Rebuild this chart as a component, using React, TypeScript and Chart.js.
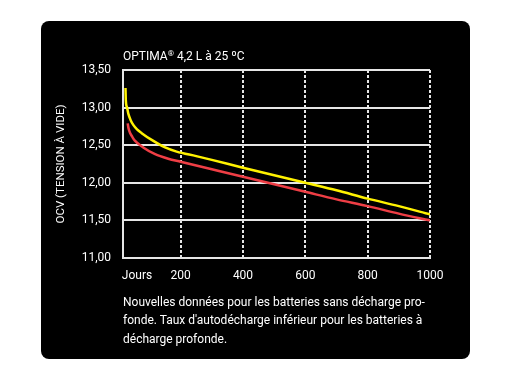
import React, { useEffect, useRef } from "react";
import { Chart, registerables } from "chart.js";

Chart.register(...registerables);

const yellowDays = [23, 24, 28, 32, 40, 48, 60, 75, 107, 150, 187, 250, 300, 400, 500, 600, 700, 800, 900, 1000];
const yellowOcv = [13.26, 13.1, 13.0, 12.92, 12.83, 12.77, 12.71, 12.66, 12.57, 12.47, 12.415, 12.355, 12.305, 12.2, 12.1, 12.0, 11.9, 11.79, 11.69, 11.58];
const redDays = [30, 33, 37, 45, 53, 80, 118, 160, 200, 300, 400, 500, 600, 700, 800, 900, 1000];
const redOcv = [12.79, 12.72, 12.67, 12.61, 12.56, 12.47, 12.38, 12.32, 12.28, 12.18, 12.08, 11.98, 11.88, 11.78, 11.69, 11.59, 11.5];
const xTickValues = [60, 200, 400, 600, 800, 1000];
const xTickLabels = ["Jours", "200", "400", "600", "800", "1000"];
const yTitle = "OCV (TENSION À VIDE)";
const footLines = [
  "Nouvelles données pour les batteries sans décharge pro-",
  "fonde. Taux d'autodécharge inférieur pour les batteries à",
  "décharge profonde.",
];

const FONT = "Roboto, 'DejaVu Sans', sans-serif";
const GRID = "#e6e6e6";

export default function App() {
  const ref = useRef<HTMLCanvasElement | null>(null);
  useEffect(() => {
    if (!ref.current) return;
    const chart = new Chart(ref.current, {
      type: "line",
      data: {
        datasets: [
          {
            data: yellowDays.map((d, i) => ({ x: d, y: yellowOcv[i] })),
            borderColor: "#fff200",
            borderWidth: 2.5,
            pointRadius: 0,
            cubicInterpolationMode: "monotone",
            fill: false,
          },
          {
            data: redDays.map((d, i) => ({ x: d, y: redOcv[i] })),
            borderColor: "#ef3e45",
            borderWidth: 2.5,
            pointRadius: 0,
            cubicInterpolationMode: "monotone",
            fill: false,
          },
        ],
      },
      options: {
        animation: false,
        responsive: false,
        maintainAspectRatio: false,
        devicePixelRatio: 1,
        layout: { padding: { left: 50, right: 81, top: 70, bottom: 88 } },
        plugins: { legend: { display: false }, tooltip: { enabled: false }, title: { display: false } },
        scales: {
          x: {
            type: "linear",
            min: 15,
            max: 1000,
            afterBuildTicks: (scale: any) => {
              scale.ticks = xTickValues.map((v) => ({ value: v }));
            },
            afterFit: (scale: any) => {
              scale.height = 30;
            },
            ticks: {
              color: "#ffffff",
              font: { family: FONT, size: 12 },
              padding: 11,
              maxRotation: 0,
              autoSkip: false,
              callback: (v: any) => {
                const i = xTickValues.indexOf(Number(v));
                return i >= 0 ? xTickLabels[i] : "";
              },
            },
            grid: {
              drawTicks: false,
              lineWidth: 2,
              color: (ctx: any) => (ctx.tick && ctx.tick.value === 60 ? "rgba(0,0,0,0)" : GRID),
            },
            border: { display: true, color: GRID, width: 2, dash: [3, 2] },
          },
          y: {
            min: 11,
            max: 13.5,
            afterFit: (scale: any) => {
              scale.width = 73;
            },
            ticks: {
              stepSize: 0.5,
              color: "#ffffff",
              font: { family: FONT, size: 12 },
              padding: 12,
              callback: (v: any) => Number(v).toFixed(2).replace(".", ","),
            },
            grid: { drawTicks: false, lineWidth: 2, color: GRID },
            border: { display: true, color: GRID, width: 2 },
            title: {
              display: true,
              text: yTitle,
              color: "#ffffff",
              font: { family: FONT, size: 11.5 },
              padding: { top: 4, bottom: 0 },
            },
          },
        },
      },
    });
    return () => chart.destroy();
  }, []);

  return (
    <div style={{ position: "fixed", left: 0, top: 0, width: 511, height: 376, background: "#ffffff", overflow: "hidden", fontFamily: FONT }}>
      <div style={{ position: "absolute", left: 41, top: 21, width: 429, height: 338, background: "#000000", borderRadius: 8 }} />
      <canvas ref={ref} width={511} height={376} style={{ position: "absolute", left: 0, top: 0, width: 511, height: 376 }} />
      <div style={{ position: "absolute", left: 123, top: 45, color: "#fff", fontSize: 12, lineHeight: "18px", whiteSpace: "nowrap" }}>
        OPTIMA<span style={{ fontSize: 8, verticalAlign: "4px" }}>®</span> 4,2 L à 25 ºC
      </div>
      <div style={{ position: "absolute", left: 123, top: 293, color: "#fff", fontSize: 12, lineHeight: "18.3px", whiteSpace: "nowrap" }}>
        {footLines.map((l, i) => (
          <div key={i}>{l}</div>
        ))}
      </div>
    </div>
  );
}
